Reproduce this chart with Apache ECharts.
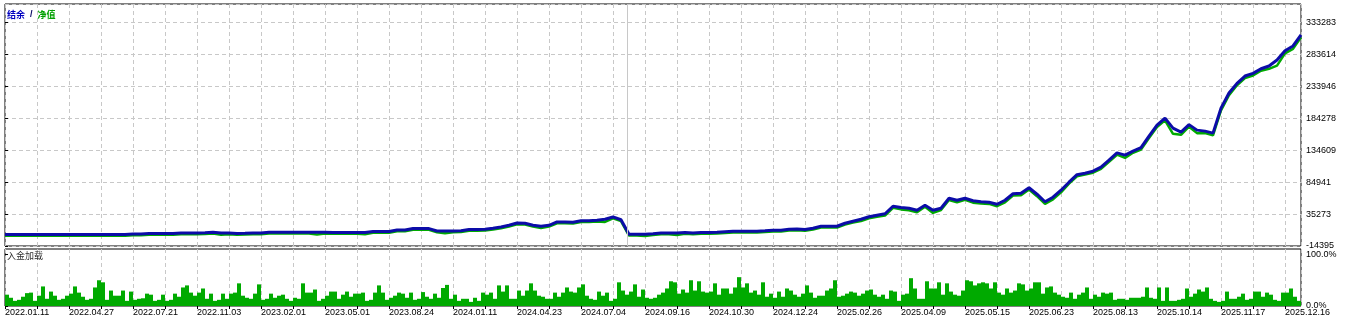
<!DOCTYPE html>
<html><head><meta charset="utf-8">
<script src="https://cdn.jsdelivr.net/npm/echarts@6/dist/echarts.min.js"></script>
<style>html,body{margin:0;padding:0;background:#fff}#c{width:1348px;height:323px}</style>
</head><body><div id="c"></div>
<script>
// x-axis date labels (one every 8 points)
const xLabels = ['2022.01.11','2022.04.27','2022.07.21','2022.11.03','2023.02.01','2023.05.01','2023.08.24','2024.01.11','2024.04.23','2024.07.04','2024.09.16','2024.10.30','2024.12.24','2025.02.26','2025.04.09','2025.05.15','2025.06.23','2025.08.13','2025.10.14','2025.11.17','2025.12.16'];
// price-axis tick labels
const yLabels = [-14395, 35273, 84941, 134609, 184278, 233946, 283614, 333283];
const yTop = 361700;
// load panel tick labels
const loadLabels = [0, 100];
const loadTop = 110.7;
// withdrawal event position (point index)
const withdrawalIndex = 77.75;

// balance (结余)
const balance = [
 3350,3350,3350,3350,3350,3350,3350,3350,3350,3350,3350,3350,3350,3350,3350,3350,
 4280,4280,4900,4900,4900,4900,5840,5840,5840,6150,6930,5840,5840,5060,5370,5840,5840,
 6930,6930,6930,7100,7100,7000,7000,6900,6620,6620,6620,6620,6620,8020,8020,8020,
 10510,10510,12690,12690,12690,8950,8950,8950,9260,11130,11130,11600,13160,15180,17830,
 21400,20940,17830,16270,17830,22960,22960,22490,24830,24830,25610,27160,30740,26390,
 3820,3820,3820,4590,5840,5840,5840,6460,5840,6460,6460,6930,7710,8490,8490,8490,8490,
 9260,10040,10040,11600,12070,11130,13160,16270,16270,16270,20940,24050,27160,31060,33390,35720,
 47400,45380,44290,41170,48960,41170,44290,59850,56740,59850,55960,54400,53620,50510,56740,
 66850,67630,76190,66080,54400,61410,72300,84750,96430,98760,101880,108100,119000,130360,
 126780,133010,138450,156350,173480,184370,168810,162580,174250,165690,164140,161020,
 199940,223280,238380,249740,253950,261110,265310,274650,289120,296440,313560
];
// equity (净值)
const equity = [
 1350,1350,1350,1350,1350,1350,1350,1350,1350,1350,1350,1350,1350,1350,1350,1350,
 2280,2280,2900,2900,2900,2900,3840,3840,3840,4150,4930,3200,3840,3060,3370,3840,3840,
 4930,4930,4930,5100,5100,5000,3500,4900,4620,4620,4620,4620,4000,6020,6020,6020,
 8510,8510,10690,10690,10690,6950,5500,6950,7260,9130,9130,9600,11160,13180,15830,
 19400,18940,15830,13500,15830,20960,20960,20490,22830,22830,23610,23000,28740,24390,
 1820,1820,1000,2590,3840,3840,2500,4460,3840,4460,4460,4930,5710,6490,6490,6490,6490,
 7260,8040,8040,9600,10070,9130,11160,14270,14270,14270,18940,22050,24500,28500,31000,33000,
 45000,42500,41000,38000,46500,37000,41500,57000,53500,57500,53000,51500,51000,47500,53500,
 64000,64500,73500,63000,51000,58000,69000,82500,94000,96500,99500,105500,116500,127500,
 122500,130500,135500,153500,170500,181000,160000,158500,171000,161000,161000,157500,
 196500,220000,235500,246500,250500,258000,261000,266000,285000,292000,310000
];
// deposit load % (入金加载)
const load = [
 22,16,10,12,18,25,26,10,20,38, 14,28,20,12,14,20,24,38,26,18,
 12,14,36,50,46,12,30,20,20,30, 10,28,12,14,15,24,22,10,12,22,
 10,12,24,18,36,40,26,20,26,34, 14,24,10,12,24,14,24,26,44,20,
 16,14,24,42,12,14,24,16,20,22, 14,10,16,14,44,26,26,32,10,14,
 20,28,28,14,22,28,18,24,24,26, 10,12,26,40,26,12,16,20,26,24,
 16,26,12,14,27,18,14,24,
 16,35,41,14,22,10,14,14,8,16, 10,26,22,26,14,40,28,40,14,14,
 30,20,30,44,30,20,18,14,14,26, 18,26,36,28,26,36,42,20,14,12,
 28,20,26,10,14,46,30,22,28,42, 18,32,16,14,16,22,26,34,48,46,
 24,32,26,50,30,48,28,26,28,44, 22,34,34,24,36,56,36,44,26,30,
 22,46,18,24,16,28,18,34,30,22, 18,24,40,26,16,20,20,30,34,50,
 18,20,24,28,26,20,24,30,32,22, 18,22,14,30,28,10,22,24,54,34,
 14,14,48,34,34,46,22,44,28,22, 20,30,50,48,40,44,46,44,34,46,
 26,22,34,26,30,44,42,30,34,46, 46,24,36,38,26,22,18,16,26,14,
 22,26,36,14,22,18,26,24,26,12, 14,14,12,16,16,16,18,36,16,14,
 36,10,36,10,10,12,14,34,18,24, 32,28,36,14,10,8,10,28,14,14,
 18,24,12,14,28,28,18,26,22,12, 10,26,26,34,18,10
];

const yMin = yLabels[0];
const yStep = (yLabels[yLabels.length - 1] - yLabels[0]) / (yLabels.length - 1);
const lastIdx = balance.length - 1;
const gridColor = '#c8c8c8';
const dash = [4, 3];
const font = 'Liberation Sans';
const labelStyle = { fontFamily: font, fontSize: 9, color: '#000' };

const chart = echarts.init(document.getElementById('c'), null, { renderer: 'canvas' });
chart.setOption({
  animation: false,
  backgroundColor: '#fff',
  title: [
    { text: '{b|结余} {s|/} {g|净值}', left: 7, top: 6, padding: 0,
      textStyle: { rich: {
        b: { color: '#0000c0', fontSize: 9, fontFamily: 'Noto Sans CJK SC' },
        s: { color: '#000060', fontSize: 9, fontFamily: font },
        g: { color: '#00a000', fontSize: 9, fontFamily: 'Noto Sans CJK SC' } } } },
    { text: '入金加载', left: 7, top: 251, padding: 0,
      textStyle: { fontSize: 9, color: '#303030', fontWeight: 'normal', fontFamily: 'Noto Sans CJK SC' } }
  ],
  grid: [
    { left: 5, top: 4, width: 1296, height: 242, show: true, borderColor: '#000', borderWidth: 1 },
    { left: 5, top: 249, width: 1296, height: 57, show: true, borderColor: '#000', borderWidth: 1 }
  ],
  xAxis: [
    { gridIndex: 0, type: 'value', min: 0, max: lastIdx, interval: 4,
      axisLine: { show: false }, axisTick: { show: false }, axisLabel: { show: false },
      splitLine: { show: true, lineStyle: { color: gridColor, type: dash } } },
    { gridIndex: 1, type: 'value', min: 0, max: lastIdx, interval: 4,
      axisLine: { show: false },
      axisTick: { show: true, length: 3, lineStyle: { color: '#000' } },
      axisLabel: Object.assign({ show: true, align: 'left', margin: 2, showMaxLabel: false,
        formatter: v => (v % 8 === 0 && xLabels[v / 8]) ? xLabels[v / 8] : '' }, labelStyle),
      splitLine: { show: true, lineStyle: { color: gridColor, type: dash } } },
    { gridIndex: 1, type: 'category', data: load.map((_, i) => i), show: false, boundaryGap: true }
  ],
  yAxis: [
    { gridIndex: 0, type: 'value', position: 'right', min: yMin, max: yTop, interval: yStep,
      axisLine: { show: false },
      axisTick: { show: true, length: 3, lineStyle: { color: '#000' } },
      axisLabel: Object.assign({ margin: 5, showMaxLabel: false,
        formatter: v => { const i = Math.round((v - yMin) / yStep); return yLabels[i] !== undefined ? String(yLabels[i]) : ''; } }, labelStyle),
      splitLine: { show: true, lineStyle: { color: gridColor, type: dash } } },
    { gridIndex: 1, type: 'value', position: 'right', min: loadLabels[0], max: loadTop, interval: loadLabels[1] - loadLabels[0],
      axisLine: { show: false },
      axisTick: { show: true, length: 3, lineStyle: { color: '#000' } },
      axisLabel: Object.assign({ margin: 5, showMaxLabel: false,
        formatter: v => v.toFixed(1) + '%' }, labelStyle),
      splitLine: { show: false } }
  ],
  series: [
    { name: '净值', type: 'line', xAxisIndex: 0, yAxisIndex: 0, showSymbol: false,
      data: equity.map((v, i) => [i, v]),
      lineStyle: { color: '#00aa00', width: 2.5 }, z: 3 },
    { name: '结余', type: 'line', xAxisIndex: 0, yAxisIndex: 0, showSymbol: false,
      data: balance.map((v, i) => [i, v]),
      lineStyle: { color: '#0c0ca8', width: 3 }, z: 4,
      markLine: { silent: true, symbol: 'none', label: { show: false },
        lineStyle: { color: '#c8c8c8', type: 'solid', width: 1 },
        data: [{ xAxis: withdrawalIndex }] } },
    { name: '入金加载', type: 'bar', xAxisIndex: 2, yAxisIndex: 1, data: load,
      barCategoryGap: '0%', itemStyle: { color: '#00aa00' } }
  ]
});
</script>
</body></html>
